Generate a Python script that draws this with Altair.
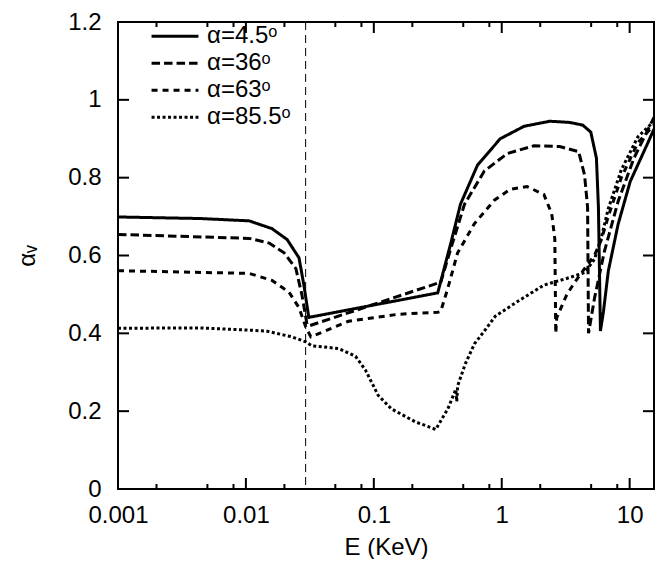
import altair as alt
import pandas as pd

# ---------------- data ----------------
E_DOMAIN = [0.001, 15.5]
Y_DOMAIN = [0, 1.2]

labels = ["α=4.5ᵒ", "α=36ᵒ", "α=63ᵒ", "α=85.5ᵒ"]

e_45 = [0.001, 0.0044, 0.0106, 0.016, 0.021, 0.026, 0.0284, 0.031, 0.316, 0.40, 0.476,
        0.646, 0.973, 1.494, 2.374, 3.396, 4.30, 4.97, 5.50, 5.70, 5.81, 5.91, 6.24,
        6.81, 8.12, 10.1, 13.9, 15.5]
y_45 = [0.699, 0.695, 0.689, 0.669, 0.641, 0.594, 0.524, 0.441, 0.504, 0.632, 0.732,
        0.832, 0.900, 0.932, 0.945, 0.942, 0.935, 0.917, 0.850, 0.724, 0.556, 0.406, 0.456,
        0.560, 0.680, 0.790, 0.890, 0.925]

e_36 = [0.001, 0.0106, 0.0152, 0.0199, 0.0246, 0.0274, 0.030, 0.031, 0.316, 0.333, 0.399,
        0.512, 0.731, 1.104, 1.786, 2.838, 3.99, 4.44, 4.69, 4.72, 4.77, 5.31, 6.34,
        8.14, 10.8, 15.5]
y_36 = [0.654, 0.644, 0.632, 0.607, 0.566, 0.499, 0.424, 0.419, 0.529, 0.530, 0.617,
        0.732, 0.817, 0.862, 0.882, 0.880, 0.867, 0.807, 0.724, 0.600, 0.400, 0.490, 0.610,
        0.740, 0.850, 0.955]

e_63 = [0.001, 0.0106, 0.016, 0.0217, 0.026, 0.0294, 0.0322, 0.0634, 0.155, 0.316, 0.333,
        0.379, 0.452, 0.612, 0.875, 1.164, 1.577, 2.135, 2.46, 2.60, 2.644, 2.69, 3.22,
        3.70, 4.44, 5.30, 6.00, 6.80, 8.60, 11.6, 15.5]
y_63 = [0.561, 0.554, 0.536, 0.506, 0.466, 0.416, 0.391, 0.431, 0.449, 0.454, 0.456,
        0.516, 0.607, 0.682, 0.742, 0.770, 0.777, 0.757, 0.707, 0.642, 0.400, 0.440, 0.499,
        0.530, 0.566, 0.600, 0.640, 0.700, 0.800, 0.890, 0.935]

e_855 = [0.001, 0.0044, 0.0144, 0.0229, 0.0294, 0.0328, 0.0531, 0.0719, 0.0859, 0.108,
         0.137, 0.21, 0.305, 0.379, 0.437, 0.445, 0.452, 0.521, 0.612, 0.731, 0.891,
         1.318, 2.135, 3.218, 4.44, 5.30, 6.00, 6.80, 8.60, 11.6, 15.5]
y_855 = [0.413, 0.414, 0.406, 0.391, 0.378, 0.368, 0.361, 0.341, 0.306, 0.241,
         0.206, 0.173, 0.153, 0.206, 0.256, 0.225, 0.265, 0.323, 0.373, 0.406, 0.444,
         0.481, 0.524, 0.541, 0.556, 0.590, 0.645, 0.720, 0.820, 0.905, 0.945]

edge_e = [0.0293]

major_ticks = [0.001, 0.01, 0.1, 1, 10]
minor_ticks = [0.002, 0.005, 0.008, 0.02, 0.05, 0.08, 0.2, 0.5, 0.8, 2, 5, 8]
y_ticks = [0, 0.2, 0.4, 0.6, 0.8, 1.0, 1.2]

dash_styles = [[1, 0], [8.5, 4], [6, 5], [3, 2.5]]

# ---------------- build tables ----------------
rows = []
for lab, es, ys in zip(labels, [e_45, e_36, e_63, e_855], [y_45, y_36, y_63, y_855]):
    for i, (e, y) in enumerate(zip(es, ys)):
        rows.append({"series": lab, "E": e, "a": y, "i": i})
df = pd.DataFrame(rows)
edge_df = pd.DataFrame({"E": edge_e})
xmaj_df = pd.DataFrame({"E": major_ticks})
xmin_df = pd.DataFrame({"E": minor_ticks})
ytk_df = pd.DataFrame({"a": y_ticks})

W, H = 536, 467
FONT = "Liberation Sans"
FS = 24
MAJ, MIN = 11, 5

xscale = alt.Scale(type="log", domain=E_DOMAIN, nice=False)
yscale = alt.Scale(domain=Y_DOMAIN, nice=False, zero=False)

x_axis = alt.Axis(orient="bottom", values=major_ticks, format="~g", ticks=False,
                  domain=False, grid=False, labelPadding=14, title="E (KeV)",
                  titlePadding=8, labelFlush=False)
y_axis = alt.Axis(orient="left", values=y_ticks, format="~g", ticks=False,
                  domain=False, grid=False, labelPadding=17, title="αᵥ",
                  titlePadding=28)

X = lambda: alt.X("E:Q", scale=xscale, axis=x_axis)
Y = lambda: alt.Y("a:Q", scale=yscale, axis=y_axis)

lines = alt.Chart(df).mark_line(strokeWidth=3, color="black", strokeCap="butt").encode(
    x=X(), y=Y(),
    strokeDash=alt.StrokeDash("series:N",
                              scale=alt.Scale(domain=labels, range=dash_styles),
                              legend=alt.Legend(orient="none", legendX=32, legendY=1,
                                                title=None, symbolType="stroke",
                                                symbolSize=2200, symbolStrokeWidth=3,
                                                symbolStrokeColor="black",
                                                labelFont=FONT, labelFontSize=FS,
                                                labelColor="black",
                                                labelOffset=7, rowPadding=0,
                                                clipHeight=26.5,
                                                padding=0)),
    order="i:Q",
)

edge = alt.Chart(edge_df).mark_rule(color="black", strokeWidth=1, strokeDash=[8, 5]).encode(
    x=X(),
)

def xticks(data, y0, y1):
    return alt.Chart(data).mark_rule(color="black", strokeWidth=2).encode(
        x=X(), y=alt.value(y0), y2=alt.value(y1),
    )

def yticks(x0, x1):
    return alt.Chart(ytk_df).mark_rule(color="black", strokeWidth=2).encode(
        y=Y(), x=alt.value(x0), x2=alt.value(x1),
    )

tick_layers = [
    xticks(xmaj_df, H, H - MAJ), xticks(xmaj_df, 0, MAJ),
    xticks(xmin_df, H, H - MIN), xticks(xmin_df, 0, MIN),
    yticks(0, MAJ), yticks(W - MAJ, W),
]

chart = alt.layer(lines, edge, *tick_layers).properties(
    width=W, height=H,
    background="white",
    autosize=alt.AutoSizeParams(type="none"),
    padding={"left": 110, "top": 14, "right": 1, "bottom": 70},
).configure_view(stroke="black", strokeWidth=2).configure_axis(
    labelFont=FONT, labelFontSize=FS, titleFont=FONT, titleFontSize=FS,
    titleFontWeight="normal", labelColor="black", titleColor="black",
)

chart.save("out.html", embed_options={"renderer": "svg", "actions": False})
